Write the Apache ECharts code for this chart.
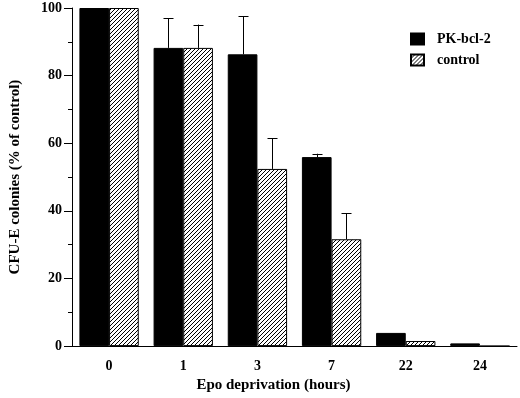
<!DOCTYPE html>
<html>
<head>
<meta charset="utf-8">
<script src="https://cdn.jsdelivr.net/npm/echarts@6/dist/echarts.min.js"></script>
<style>
  html, body { margin: 0; padding: 0; background: #fff; }
  #chart { width: 520px; height: 398px; }
</style>
</head>
<body>
<div id="chart"></div>
<script>
  // hours of Epo deprivation
  var hours = ['0', '1', '3', '7', '22', '24']
  // CFU-E colonies, % of control
  var pkBcl2 = [100, 88.2, 86.3, 55.9, 3.9, 0.8]
  var control = [100, 88.2, 52.4, 31.6, 1.5, 0]
  // upper error (SD)
  var pkBcl2Err = [0, 8.7, 11.2, 1.0, 0, 0]
  var controlErr = [0, 6.9, 9.1, 7.7, 0, 0]
  var yTicks = [0, 20, 40, 60, 80, 100]

  var font = 'Liberation Serif'

  // hatch pattern for the control bars
  function hatch () {
    var c = document.createElement('canvas')
    c.width = 4
    c.height = 4
    var ctx = c.getContext('2d')
    ctx.fillStyle = '#fff'
    ctx.fillRect(0, 0, 4, 4)
    ctx.strokeStyle = '#000'
    ctx.lineWidth = 1
    ctx.beginPath()
    ctx.moveTo(0, 4)
    ctx.lineTo(4, 0)
    ctx.moveTo(-1, 1)
    ctx.lineTo(1, -1)
    ctx.moveTo(3, 5)
    ctx.lineTo(5, 3)
    ctx.stroke()
    return c
  }

  function errData (vals, errs) {
    var out = []
    for (var i = 0; i < vals.length; i++) {
      if (errs[i] > 0) out.push([i, vals[i], errs[i]])
    }
    return out
  }

  function errRender (side) {
    return function (params, api) {
      var band = api.size([1, 0])[0]
      var p0 = api.coord([api.value(0), api.value(1)])
      var p1 = api.coord([api.value(0), api.value(1) + api.value(2)])
      var x = Math.round(p0[0] + side * band * 0.2) + 0.5
      var style = { stroke: '#000', lineWidth: 1 }
      return {
        type: 'group',
        children: [
          { type: 'line', shape: { x1: x, y1: p0[1], x2: x, y2: p1[1] }, style: style },
          { type: 'line', shape: { x1: x - 5, y1: Math.round(p1[1]) + 0.5, x2: x + 5, y2: Math.round(p1[1]) + 0.5 }, style: style }
        ]
      }
    }
  }

  var myChart = echarts.init(document.getElementById('chart'))
  var pattern = { image: hatch(), repeat: 'repeat' }

  myChart.setOption({
    animation: false,
    grid: { left: 65, right: 3, top: 8, bottom: 50 },
    legend: {
      data: ['PK-bcl-2', 'control'],
      orient: 'vertical',
      left: 405,
      top: 27,
      itemWidth: 13,
      itemHeight: 11,
      itemGap: 7,
      icon: 'rect',
      textStyle: { fontFamily: font, fontWeight: 'bold', fontSize: 14, color: '#000', padding: [0, 0, 0, 8] }
    },
    xAxis: {
      type: 'category',
      data: hours,
      name: 'Epo deprivation (hours)',
      nameLocation: 'middle',
      nameGap: 31,
      nameTextStyle: { fontFamily: font, fontWeight: 'bold', fontSize: 15, color: '#000', padding: [0, 42, 0, 0] },
      axisLine: { lineStyle: { color: '#000', width: 1 } },
      axisTick: { length: 4, lineStyle: { color: '#000' } },
      axisLabel: { margin: 13, fontFamily: font, fontWeight: 'bold', fontSize: 14, color: '#000' }
    },
    yAxis: {
      type: 'value',
      min: 0,
      max: 100,
      interval: 20,
      name: 'CFU-E colonies (% of control)',
      nameLocation: 'middle',
      nameGap: 49,
      nameTextStyle: { fontFamily: font, fontWeight: 'bold', fontSize: 15, color: '#000' },
      axisLine: { show: true, lineStyle: { color: '#000', width: 1 } },
      axisTick: { show: true, length: 8, lineStyle: { color: '#000' } },
      minorTick: { show: true, splitNumber: 2, length: 4, lineStyle: { color: '#000' } },
      splitLine: { show: false },
      axisLabel: {
        margin: 10,
        fontFamily: font,
        fontWeight: 'bold',
        fontSize: 14,
        color: '#000',
        formatter: function (v) { return yTicks.indexOf(v) >= 0 ? String(v) : '' }
      }
    },
    series: [
      {
        name: 'PK-bcl-2',
        type: 'bar',
        data: pkBcl2,
        barWidth: '40%',
        barGap: 0,
        itemStyle: { color: '#000', borderColor: '#000', borderWidth: 1 }
      },
      {
        name: 'control',
        type: 'bar',
        data: control,
        barWidth: '40%',
        barGap: 0,
        itemStyle: { color: pattern, borderColor: '#000', borderWidth: 1 }
      },
      {
        type: 'custom',
        renderItem: errRender(-1),
        data: errData(pkBcl2, pkBcl2Err),
        z: 5
      },
      {
        type: 'custom',
        renderItem: errRender(1),
        data: errData(control, controlErr),
        z: 5
      }
    ]
  })
</script>
</body>
</html>
